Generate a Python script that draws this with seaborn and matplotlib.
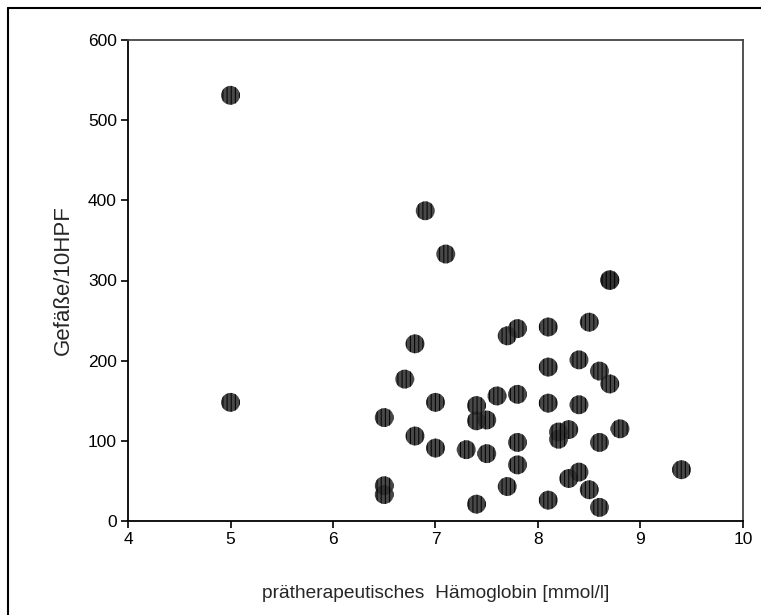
import matplotlib
matplotlib.use("Agg")
import matplotlib.pyplot as plt
from matplotlib.lines import Line2D
import seaborn as sns
import pandas as pd

# Pre-treatment haemoglobin [mmol/l] and vessel counts per 10 HPF
haemoglobin = [5.0, 5.0, 6.9, 7.1, 8.7, 8.7, 8.5, 8.1, 7.8, 7.7,
               6.8, 8.4, 8.1, 8.6, 6.7, 8.7, 7.6, 7.8, 7.0, 7.4,
               8.1, 8.4, 6.5, 7.4, 7.5, 8.8, 8.3, 8.2, 8.2, 6.8,
               7.0, 7.3, 7.5, 7.8, 8.6, 7.8, 9.4, 8.4, 8.3, 7.7,
               6.5, 6.5, 8.5, 7.4, 8.1, 8.6]
vessels = [531, 148, 387, 333, 301, 300, 248, 242, 240, 231,
           221, 201, 192, 187, 177, 171, 156, 158, 148, 144,
           147, 145, 129, 125, 126, 115, 114, 111, 102, 106,
           91, 89, 84, 98, 98, 70, 64, 61, 53, 43,
           44, 33, 39, 21, 26, 17]

x_ticks = [4, 5, 6, 7, 8, 9, 10]
y_ticks = [0, 100, 200, 300, 400, 500, 600]

df = pd.DataFrame({"hb": haemoglobin, "vessels": vessels})

sns.set_style("ticks")
plt.rcParams["font.family"] = ["Liberation Sans", "DejaVu Sans"]
plt.rcParams["hatch.linewidth"] = 0.8

fig = plt.figure(figsize=(7.61, 6.15), dpi=100)
ax = fig.add_axes([128 / 761, 1 - 521 / 615, (743 - 128) / 761, (521 - 40) / 615])

# dark grey dots with fine black vertical hatching
sns.scatterplot(data=df, x="hb", y="vessels", ax=ax, s=185, marker="o",
                facecolor="#2e2e2e", edgecolor="black", alpha=0.88,
                linewidth=0, hatch="||||", legend=False)

ax.set_xlim(4, 10)
ax.set_ylim(0, 600)
ax.set_xticks(x_ticks)
ax.set_yticks(y_ticks)
ax.set_xticklabels([str(t) for t in x_ticks])
ax.set_yticklabels([str(t) for t in y_ticks])
ax.tick_params(axis="both", labelsize=12.5, length=5, width=1.2,
               direction="out", pad=3, colors="black")

for side in ["left", "bottom"]:
    ax.spines[side].set_color("black")
    ax.spines[side].set_linewidth(1.3)
for side in ["top", "right"]:
    ax.spines[side].set_visible(True)
    ax.spines[side].set_color("#444444")
    ax.spines[side].set_linewidth(1.3)

ax.set_xlabel("prätherapeutisches  Hämoglobin [mmol/l]", fontsize=13.8)
ax.set_ylabel("Gefäße/10HPF", fontsize=16)
ax.xaxis.set_label_coords(0.5, (521 - 585) / 481)
ax.yaxis.set_label_coords((74 - 128) / 615, 0.5)

# outer frame lines along the top and left of the figure
fig.add_artist(Line2D([8 / 761, 1.0], [1 - 8 / 615, 1 - 8 / 615],
                      transform=fig.transFigure, color="black", linewidth=1.5))
fig.add_artist(Line2D([8 / 761, 8 / 761], [0.0, 1 - 8 / 615],
                      transform=fig.transFigure, color="black", linewidth=1.5))

fig.savefig("out.png", dpi=100, facecolor="white")
